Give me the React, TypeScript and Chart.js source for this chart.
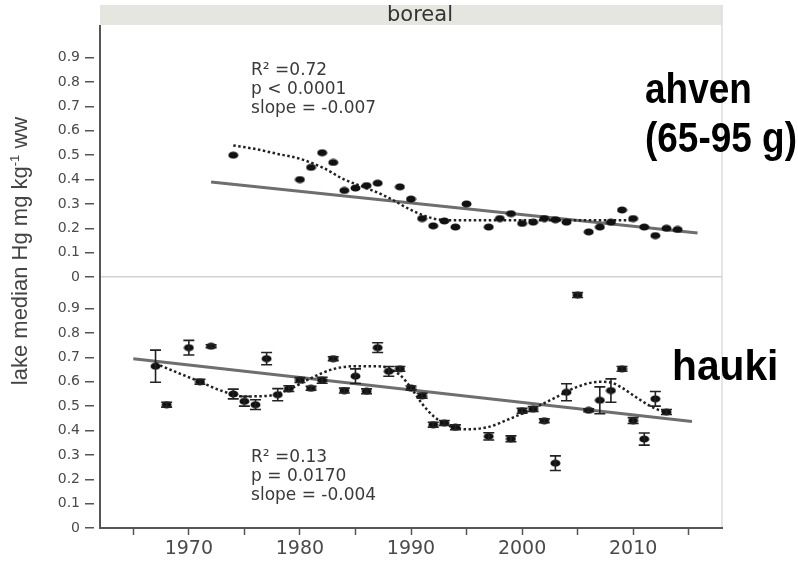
import React, { useEffect, useRef } from 'react';
import { Chart, registerables } from 'chart.js';

Chart.register(...registerables);

// ---------- data ----------
const panelTitle = 'boreal';
const yTitleMain = 'lake median Hg mg kg';
const yTitleSup = '-1';
const yTitleEnd = ' ww';

const ahvenLabel = ['ahven', '(65-95 g)'];
const haukiLabel = 'hauki';

const ahvenStats = ['R\u00B2 =0.72', 'p < 0.0001', 'slope = -0.007'];
const haukiStats = ['R\u00B2 =0.13', 'p = 0.0170', 'slope = -0.004'];

const xTickValues = [1965, 1970, 1975, 1980, 1985, 1990, 1995, 2000, 2005, 2010, 2015];
const xLabeledTicks = [1970, 1980, 1990, 2000, 2010];
const yTickValues = [0, 0.1, 0.2, 0.3, 0.4, 0.5, 0.6, 0.7, 0.8, 0.9];
const yTickLabels = ['0', '0.1', '0.2', '0.3', '0.4', '0.5', '0.6', '0.7', '0.8', '0.9'];

const ahvenYears = [1974, 1980, 1981, 1982, 1983, 1984, 1985, 1986, 1987, 1989, 1990, 1991, 1992, 1993, 1994, 1995, 1997, 1998, 1999, 2000, 2001, 2002, 2003, 2004, 2006, 2007, 2008, 2009, 2010, 2011, 2012, 2013, 2014];
const ahvenValues = [0.50, 0.40, 0.45, 0.51, 0.47, 0.355, 0.365, 0.375, 0.385, 0.37, 0.32, 0.24, 0.21, 0.23, 0.205, 0.30, 0.205, 0.24, 0.26, 0.22, 0.225, 0.24, 0.235, 0.225, 0.185, 0.205, 0.225, 0.275, 0.24, 0.205, 0.17, 0.20, 0.195];

const ahvenSmoothYears = [1974, 1976, 1978, 1980, 1982, 1984, 1986, 1988, 1990, 1992, 1994, 1996, 1998, 2000, 2002, 2004, 2006, 2008, 2010];
const ahvenSmoothValues = [0.54, 0.525, 0.505, 0.485, 0.45, 0.40, 0.365, 0.325, 0.275, 0.24, 0.233, 0.233, 0.233, 0.233, 0.233, 0.233, 0.233, 0.233, 0.233];

const ahvenTrendYears = [1972, 2015.8];
const ahvenTrendValues = [0.39, 0.181];

const haukiYears = [1967, 1968, 1970, 1971, 1972, 1974, 1975, 1976, 1977, 1978, 1979, 1980, 1981, 1982, 1983, 1984, 1985, 1986, 1987, 1988, 1989, 1990, 1991, 1992, 1993, 1994, 1997, 1999, 2000, 2001, 2002, 2003, 2004, 2005, 2006, 2007, 2008, 2009, 2010, 2011, 2012, 2013];
const haukiValues = [0.664, 0.506, 0.74, 0.60, 0.746, 0.55, 0.52, 0.506, 0.695, 0.547, 0.572, 0.607, 0.573, 0.606, 0.695, 0.564, 0.623, 0.561, 0.74, 0.643, 0.653, 0.575, 0.543, 0.424, 0.431, 0.413, 0.376, 0.366, 0.481, 0.488, 0.44, 0.266, 0.557, 0.956, 0.483, 0.524, 0.564, 0.653, 0.441, 0.365, 0.53, 0.476];
const haukiErrors = [0.066, 0.01, 0.03, 0.01, 0.006, 0.02, 0.02, 0.02, 0.025, 0.025, 0.012, 0.01, 0.008, 0.012, 0.008, 0.01, 0.03, 0.01, 0.02, 0.02, 0.01, 0.008, 0.01, 0.01, 0.01, 0.01, 0.015, 0.012, 0.01, 0.01, 0.008, 0.03, 0.035, 0.01, 0.006, 0.055, 0.048, 0.01, 0.012, 0.025, 0.03, 0.01];

const haukiSmoothYears = [1967, 1969, 1971, 1973, 1975, 1977, 1979, 1981, 1983, 1985, 1987, 1989, 1990, 1991, 1992, 1993, 1995, 1997, 1999, 2001, 2003, 2005, 2007, 2008, 2009, 2010, 2011, 2012, 2013];
const haukiSmoothValues = [0.675, 0.637, 0.60, 0.562, 0.54, 0.542, 0.568, 0.615, 0.652, 0.664, 0.664, 0.628, 0.575, 0.51, 0.46, 0.428, 0.405, 0.415, 0.45, 0.49, 0.535, 0.58, 0.60, 0.597, 0.575, 0.545, 0.515, 0.49, 0.476];

const haukiTrendYears = [1965, 2015.3];
const haukiTrendValues = [0.695, 0.437];

// ---------- helpers ----------
const TICK_FONT = '"DejaVu Sans", sans-serif';
const pts = (xs: number[], ys: number[]) => xs.map((x, i) => ({ x, y: ys[i] }));

function makeDot() {
  const c = document.createElement('canvas');
  c.width = 11;
  c.height = 8;
  const g = c.getContext('2d')!;
  g.fillStyle = '#111';
  g.beginPath();
  g.ellipse(5.5, 4, 5, 3.6, 0, 0, Math.PI * 2);
  g.fill();
  return c;
}

function yAxis(weight: number, drawZeroLine: boolean) {
  return {
    type: 'linear',
    position: 'left',
    stack: 'panels',
    stackWeight: 1,
    weight,
    min: 0,
    max: 1.03,
    afterBuildTicks: (s: any) => {
      s.ticks = yTickValues.map((v) => ({ value: v }));
    },
    afterFit: (s: any) => {
      s.width = 100;
    },
    ticks: {
      color: '#4a4a4a',
      font: { family: TICK_FONT, size: 14 },
      padding: 5,
      autoSkip: false,
      callback: (v: any) => {
        const i = yTickValues.findIndex((t) => Math.abs(t - Number(v)) < 1e-6);
        return i >= 0 ? yTickLabels[i] : '';
      },
    },
    grid: {
      drawOnChartArea: drawZeroLine,
      color: (c: any) => (c.tick && c.tick.value === 0 ? '#d2d2d2' : 'rgba(0,0,0,0)'),
      lineWidth: 1.5,
      tickLength: 15,
      tickColor: '#555',
      tickWidth: 1.5,
      tickBorderDash: [9, 6],
    },
    border: { display: true, color: '#555', width: 2 },
  };
}

export default function App() {
  const ref = useRef<HTMLCanvasElement>(null);

  useEffect(() => {
    const canvas = ref.current!;
    const dot = makeDot();

    const decor = {
      id: 'decor',
      beforeDraw(chart: any) {
        const { ctx, chartArea } = chart;
        ctx.save();
        ctx.fillStyle = '#e6e6e0';
        ctx.fillRect(chartArea.left, 5, chartArea.right - chartArea.left, 20);
        ctx.fillStyle = '#333';
        ctx.font = '21px "DejaVu Sans", sans-serif';
        ctx.textAlign = 'center';
        ctx.textBaseline = 'middle';
        ctx.fillText(panelTitle, 420, 15.5);
        ctx.strokeStyle = '#dcdcdc';
        ctx.lineWidth = 1.5;
        ctx.beginPath();
        ctx.moveTo(chartArea.right, 5);
        ctx.lineTo(chartArea.right, chartArea.bottom);
        ctx.stroke();
        ctx.restore();
      },
      afterDatasetsDraw(chart: any) {
        const { ctx } = chart;
        const xs = chart.scales.x;
        const yb = chart.scales.yB;
        ctx.save();
        ctx.strokeStyle = '#222';
        ctx.lineWidth = 1.6;
        haukiYears.forEach((yr, i) => {
          const px = xs.getPixelForValue(yr);
          const t = yb.getPixelForValue(haukiValues[i] + haukiErrors[i]);
          const b = yb.getPixelForValue(haukiValues[i] - haukiErrors[i]);
          ctx.beginPath();
          ctx.moveTo(px, t);
          ctx.lineTo(px, b);
          ctx.moveTo(px - 5.5, t);
          ctx.lineTo(px + 5.5, t);
          ctx.moveTo(px - 5.5, b);
          ctx.lineTo(px + 5.5, b);
          ctx.stroke();
        });
        ctx.restore();
      },
      afterDraw(chart: any) {
        const { ctx } = chart;
        const xs = chart.scales.x;
        const yt = chart.scales.yT;
        const yb = chart.scales.yB;
        ctx.save();
        // stats annotations
        ctx.fillStyle = '#3a3a3a';
        ctx.font = '17px "DejaVu Sans", sans-serif';
        ctx.textAlign = 'left';
        ctx.textBaseline = 'alphabetic';
        const ax = xs.getPixelForValue(1975.6);
        const topBase = [0.828, 0.752, 0.674];
        ahvenStats.forEach((s, i) => ctx.fillText(s, ax, yt.getPixelForValue(topBase[i])));
        const botBase = [0.272, 0.194, 0.115];
        haukiStats.forEach((s, i) => ctx.fillText(s, ax, yb.getPixelForValue(botBase[i])));

        // y axis title
        ctx.fillStyle = '#444';
        ctx.translate(27, 251);
        ctx.rotate(-Math.PI / 2);
        const big = '22px "Liberation Sans", Arial, sans-serif';
        const small = '13px "Liberation Sans", Arial, sans-serif';
        ctx.font = big;
        const w1 = ctx.measureText(yTitleMain).width;
        const w3 = ctx.measureText(yTitleEnd).width;
        ctx.font = small;
        const w2 = ctx.measureText(yTitleSup).width;
        let x0 = -(w1 + w2 + w3) / 2;
        ctx.font = big;
        ctx.fillText(yTitleMain, x0, 0);
        x0 += w1;
        ctx.font = small;
        ctx.fillText(yTitleSup, x0, -8);
        x0 += w2;
        ctx.font = big;
        ctx.fillText(yTitleEnd, x0, 0);
        ctx.restore();

        // big species labels
        ctx.save();
        ctx.fillStyle = '#000';
        ctx.font = 'bold 42px "Liberation Sans", Arial, sans-serif';
        ctx.textAlign = 'left';
        ctx.textBaseline = 'alphabetic';
        ctx.save();
        ctx.translate(645, 103);
        ctx.scale(0.88, 1);
        ctx.fillText(ahvenLabel[0], 0, 0);
        ctx.fillText(ahvenLabel[1], 0, 49);
        ctx.restore();
        ctx.save();
        ctx.translate(672, 380);
        ctx.scale(0.97, 1);
        ctx.fillText(haukiLabel, 0, 0);
        ctx.restore();
        ctx.restore();
      },
    };

    const lineBase = {
      showLine: true,
      pointRadius: 0,
      pointHoverRadius: 0,
      fill: false,
      xAxisID: 'x',
    };

    const chart = new Chart(canvas, {
      type: 'scatter',
      data: {
        datasets: [
          {
            label: 'ahven',
            data: pts(ahvenYears, ahvenValues),
            xAxisID: 'x',
            yAxisID: 'yT',
            pointStyle: dot as any,
            pointRadius: 5,
            showLine: false,
            order: 0,
          },
          {
            label: 'hauki',
            data: pts(haukiYears, haukiValues),
            xAxisID: 'x',
            yAxisID: 'yB',
            pointStyle: dot as any,
            pointRadius: 5,
            showLine: false,
            order: 0,
          },
          {
            ...lineBase,
            label: 'ahven smooth',
            data: pts(ahvenSmoothYears, ahvenSmoothValues),
            yAxisID: 'yT',
            borderColor: '#222',
            borderWidth: 2.5,
            borderDash: [2.5, 2.5],
            cubicInterpolationMode: 'monotone',
            order: 1,
          },
          {
            ...lineBase,
            label: 'hauki smooth',
            data: pts(haukiSmoothYears, haukiSmoothValues),
            yAxisID: 'yB',
            borderColor: '#222',
            borderWidth: 2.5,
            borderDash: [2.5, 2.5],
            cubicInterpolationMode: 'monotone',
            order: 1,
          },
          {
            ...lineBase,
            label: 'ahven trend',
            data: pts(ahvenTrendYears, ahvenTrendValues),
            yAxisID: 'yT',
            borderColor: '#6e6e6e',
            borderWidth: 3,
            order: 2,
          },
          {
            ...lineBase,
            label: 'hauki trend',
            data: pts(haukiTrendYears, haukiTrendValues),
            yAxisID: 'yB',
            borderColor: '#6e6e6e',
            borderWidth: 3,
            order: 2,
          },
        ] as any,
      },
      options: {
        animation: false,
        responsive: true,
        maintainAspectRatio: false,
        layout: { padding: { left: 0, right: 76, top: 26, bottom: 0 } },
        plugins: {
          legend: { display: false },
          tooltip: { enabled: false },
          title: { display: false },
        },
        events: [],
        scales: {
          x: {
            type: 'linear',
            position: 'bottom',
            min: 1962,
            max: 2018,
            afterBuildTicks: (s: any) => {
              s.ticks = xTickValues.map((v) => ({ value: v }));
            },
            afterFit: (s: any) => {
              s.height = 35;
            },
            ticks: {
              color: '#4a4a4a',
              font: { family: TICK_FONT, size: 19 },
              padding: 3,
              maxRotation: 0,
              autoSkip: false,
              callback: (v: any) => (xLabeledTicks.includes(Number(v)) ? String(v) : ''),
            },
            grid: {
              drawOnChartArea: false,
              tickLength: 7,
              tickColor: '#555',
              tickWidth: 1.5,
            },
            border: { display: true, color: '#555', width: 2 },
          },
          yT: yAxis(1, true),
          yB: yAxis(0, false),
        } as any,
      },
      plugins: [decor],
    } as any);

    return () => chart.destroy();
  }, []);

  return (
    <div style={{ position: 'absolute', left: 0, top: 0, width: 798, height: 563 }}>
      <canvas ref={ref} />
    </div>
  );
}
